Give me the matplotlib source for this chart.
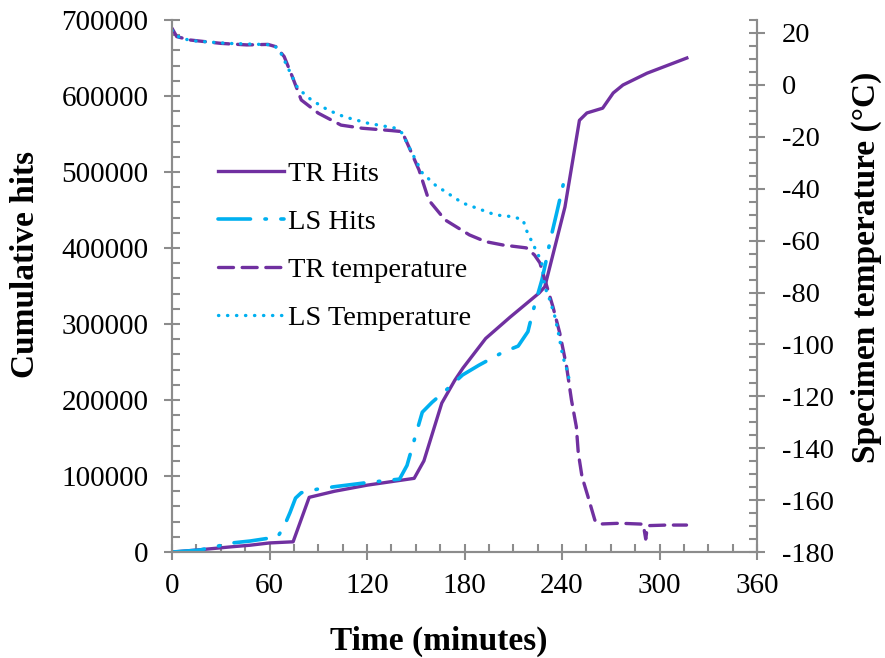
import matplotlib
matplotlib.use("Agg")
import matplotlib.pyplot as plt
from matplotlib.ticker import MultipleLocator

plt.rcParams["font.family"] = ["Liberation Serif", "DejaVu Serif"]
plt.rcParams["axes.unicode_minus"] = False

# TR hits (cumulative)
tr_hits_t = [0, 17, 37, 48, 60, 74.5, 84.4, 100, 120, 149, 155, 166, 174, 179, 193, 208,
             226, 229.4, 241.8, 250.7, 255.3, 265, 271.5, 277.5, 292.3, 316.8]
tr_hits = [0, 3000, 7000, 9000, 12000, 13500, 72000, 80000, 88000, 97000, 120000, 196000,
           226000, 242000, 281000, 309000, 341000, 349000, 454000, 568000, 577700, 584000,
           604000, 614500, 630000, 650000]

# LS hits (cumulative)
ls_hits_t = [0, 17, 37, 48, 65, 69, 72.6, 76, 79.5, 90, 100, 118.6, 140, 144.6, 149, 154,
             160, 170.7, 178.8, 189, 203.7, 213, 219, 222, 227.6, 230.7, 232.5, 236.8, 241.1]
ls_hits = [0, 2600, 12000, 14500, 20000, 34000, 52000, 71000, 78000, 83000, 86000, 91000,
           96000, 114000, 147000, 184000, 197000, 217000, 233000, 246000, 263000, 271000,
           290000, 316000, 358000, 388000, 408000, 447000, 487000]

# TR specimen temperature (°C)
tr_temp_t = [0, 2.9, 11, 30, 46, 59, 64, 69, 74, 79.5, 90, 104, 117, 135, 141.5, 145.7, 152,
             158, 168, 183, 193, 203.7, 218, 223, 226.4, 229.5, 234.4, 238.6, 242.8, 245.8,
             248.8, 250, 252.3, 256, 260.2, 263.3, 275.5, 288, 290, 291.5, 292.5, 294, 304.2,
             316.6]
tr_temp = [21.8, 18.6, 17.3, 16, 15.4, 15.6, 14.7, 10.9, 3.2, -5.8, -10.9, -15.5, -16.7, -17.6,
           -18, -23.8, -32.8, -44.4, -52, -57.8, -60.4, -61.7, -62.8, -65.5, -68.6, -75.2,
           -85.5, -95.6, -108.6, -121.4, -131.7, -141.8, -151, -158.7, -167.7, -169.2, -168.9,
           -169.2, -169.3, -175, -170.3, -169.8, -169.6, -169.6]

# LS specimen temperature (°C)
ls_temp_t = [0, 5, 13, 34, 54.6, 62.7, 67, 72, 77.4, 85.7, 96, 106, 120.8, 137, 141.5, 145.7,
             154, 162, 178.8, 199, 209.8, 216, 218, 224.4, 227.4, 229.4, 232.5, 235.6, 237.6,
             240.5, 243.6, 244.8]
ls_temp = [21, 18, 17, 16, 15.6, 15.4, 12.2, 5.7, -1.3, -5.8, -9.7, -12.3, -14.8, -16.6, -18.5,
           -23.8, -33.9, -38.6, -45.5, -50.1, -50.8, -52, -55.9, -64.3, -68.1, -77.8, -82.9,
           -89.3, -95.1, -104.7, -111, -115]

purple = "#7030A0"
cyan = "#00B0F0"
grey = "#8C8C8C"

fig = plt.figure(figsize=(8.85, 6.58), dpi=100)
ax = fig.add_axes([0.1944, 0.161, 0.661, 0.8086])
ax2 = ax.twinx()

l1, = ax.plot(tr_hits_t, tr_hits, color=purple, lw=2.4, label="TR Hits")
l2, = ax.plot(ls_hits_t, ls_hits, color=cyan, lw=2.6, dashes=(9, 4, 0.4, 4),
              dash_capstyle="round", label="LS Hits")
l3, = ax2.plot(tr_temp_t, tr_temp, color=purple, lw=2.4, dashes=(4.5, 2.6),
               dash_capstyle="round", label="TR temperature")
l4, = ax2.plot(ls_temp_t, ls_temp, color=cyan, lw=2.4, dashes=(0.1, 2.6),
               dash_capstyle="round", label="LS Temperature")

ax.set_xlim(0, 360)
ax.set_ylim(0, 700000)
ax2.set_ylim(-180, 25)

ax.xaxis.set_major_locator(MultipleLocator(60))
ax.xaxis.set_minor_locator(MultipleLocator(15))
ax.yaxis.set_major_locator(MultipleLocator(100000))
ax.yaxis.set_minor_locator(MultipleLocator(20000))
ax2.set_yticks(range(-180, 21, 20))
ax2.yaxis.set_minor_locator(MultipleLocator(5))

for a in (ax, ax2):
    for s in a.spines.values():
        s.set_color(grey)
        s.set_linewidth(1.5)
    a.spines["top"].set_visible(False)
    a.tick_params(which="major", direction="inout", length=12, width=1.5, color=grey,
                  labelsize=21)
    a.tick_params(which="minor", direction="in", length=6, width=1.5, color=grey)

ax.tick_params(axis="y", pad=11)
ax.tick_params(axis="x", pad=9)
ax2.tick_params(axis="y", pad=12, labelsize=20.5)

ax.set_xlabel("Time (minutes)", fontsize=24, fontweight="bold")
ax.set_ylabel("Cumulative hits", fontsize=24, fontweight="bold")
ax2.set_ylabel("Specimen temperature (°C)", fontsize=24, fontweight="bold")
ax.xaxis.set_label_coords(0.456, -0.138)
ax.yaxis.set_label_coords(-0.224, 0.541)
ax2.yaxis.set_label_coords(1.161, 0.535)

ax.legend(handles=[l1, l2, l3, l4], loc="upper left", bbox_to_anchor=(0.079, 0.734),
          frameon=False, fontsize=20.5, handlelength=2.3, handletextpad=0.15,
          labelspacing=0.77, borderpad=0, borderaxespad=0)

fig.savefig("out.png", dpi=100)
